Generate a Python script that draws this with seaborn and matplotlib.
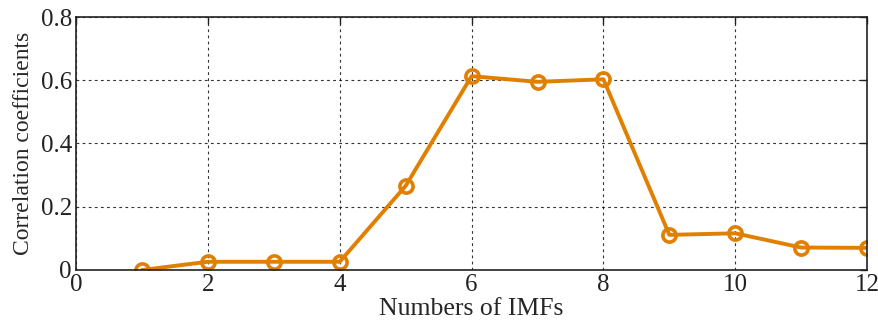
import matplotlib
matplotlib.use("Agg")
import matplotlib.pyplot as plt
from matplotlib import font_manager
import seaborn as sns
import pandas as pd

# Correlation coefficient of each IMF component
imf_numbers = [1, 2, 3, 4, 5, 6, 7, 8, 9, 10, 11, 12]
corr_coefs = [0.0, 0.026, 0.026, 0.026, 0.266, 0.613, 0.595, 0.603, 0.111, 0.116, 0.071, 0.070]
x_ticks = [0, 2, 4, 6, 8, 10, 12]
y_ticks = [0, 0.2, 0.4, 0.6, 0.8]
y_tick_labels = ["0", "0.2", "0.4", "0.6", "0.8"]

df = pd.DataFrame({"imf": imf_numbers, "corr": corr_coefs})

sns.set_style("white")
names = sorted({f.name for f in font_manager.fontManager.ttflist})
serif = "Liberation Serif" if "Liberation Serif" in names else "DejaVu Serif"
plt.rcParams["font.family"] = [serif, "DejaVu Serif"]

fig = plt.figure(figsize=(8.79, 3.24), dpi=100)
ax = fig.add_axes([0.0865, 0.1667, 0.9, 0.7808])

color = "#E07F00"
sns.lineplot(data=df, x="imf", y="corr", ax=ax, color=color, linewidth=2.8,
             marker="o", markersize=9.5, markerfacecolor="none",
             markeredgecolor=color, markeredgewidth=2.6)

ax.set_xlim(0, 12)
ax.set_ylim(0, 0.8)
ax.set_xticks(x_ticks)
ax.set_xticklabels([str(t) for t in x_ticks])
ax.set_yticks(y_ticks)
ax.set_yticklabels(y_tick_labels)

ax.grid(True, color="black", linestyle=(0, (2.5, 3)), linewidth=0.8, alpha=0.8)
ax.tick_params(direction="in", length=5, width=1, top=True, right=True,
               labelsize=18, colors="#222222", pad=3)
for s in ax.spines.values():
    s.set_visible(True)
    s.set_color("#222222")
    s.set_linewidth(1.2)

ax.set_xlabel("Numbers of IMFs", fontsize=18.5, labelpad=1)
ax.set_ylabel("Correlation coefficients", fontsize=17, labelpad=5)

fig.savefig("out.png", dpi=100)
